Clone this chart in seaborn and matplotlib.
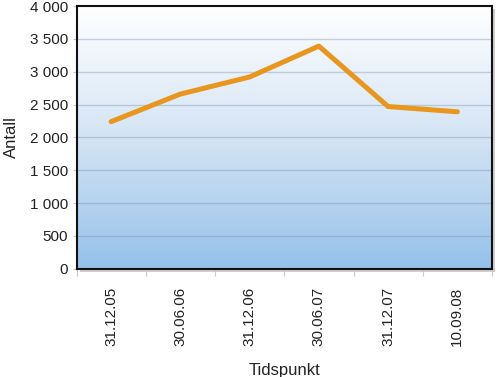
import numpy as np
import pandas as pd
import matplotlib
matplotlib.use("Agg")
import matplotlib.pyplot as plt
import seaborn as sns
from matplotlib.colors import LinearSegmentedColormap
from matplotlib.ticker import FuncFormatter, FixedLocator
from matplotlib.patches import Rectangle

# data
tidspunkt = ["31.12.05", "30.06.06", "31.12.06", "30.06.07", "31.12.07", "10.09.08"]
antall = [2240, 2660, 2920, 3390, 2470, 2390]
y_ticks = [0, 500, 1000, 1500, 2000, 2500, 3000, 3500, 4000]

df = pd.DataFrame({"Tidspunkt": tidspunkt, "Antall": antall})

sns.set_style("white")
plt.rcParams["font.family"] = ["Liberation Sans", "DejaVu Sans"]

fig = plt.figure(figsize=(5, 3.77), dpi=100)
ax = fig.add_axes([0.153, 0.287, 0.831, 0.697])

# soft shadow behind the plot area
x0, y0, w, h = 0.153, 0.287, 0.831, 0.697
fig.patches.append(Rectangle((x0 + 0.006, y0 - 0.008), w, h, transform=fig.transFigure,
                             facecolor="#d0d0d0", edgecolor="none", zorder=-5))

# gradient background
grad = LinearSegmentedColormap.from_list("bg", ["#96c1ea", "#d4e4f4", "#ffffff"])
ax.imshow(np.linspace(0, 1, 256).reshape(-1, 1), cmap=grad, origin="lower",
          extent=[0, 1, 0, 1], transform=ax.transAxes, aspect="auto", zorder=0)

sns.lineplot(data=df, x="Tidspunkt", y="Antall", ax=ax, color="#e8961e",
             linewidth=3.6, sort=False, zorder=3)

ax.set_xlim(-0.5, len(tidspunkt) - 0.5)
ax.set_ylim(0, 4000)
ax.set_yticks(y_ticks)
ax.yaxis.set_major_formatter(FuncFormatter(lambda v, p: f"{int(v):,}".replace(",", " ")))
for t in y_ticks[1:-1]:
    ax.axhline(t, color="#6f86a3", alpha=0.35, linewidth=1.0, zorder=1)

ax.set_xticks(range(len(tidspunkt)))
ax.set_xticklabels(tidspunkt, rotation=90, fontsize=11, color="#222222")
ax.xaxis.set_minor_locator(FixedLocator(np.arange(-0.5, len(tidspunkt), 1)))
ax.tick_params(axis="x", which="major", length=0, pad=13)
ax.tick_params(axis="x", which="minor", length=5, width=0.8, color="#c8c8c8", bottom=True)
ax.tick_params(axis="y", length=3, width=0.8, color="#c8c8c8", left=True, labelsize=11,
               labelcolor="#222222", pad=3)

ax.set_xlabel("Tidspunkt", fontsize=12, color="#222222", labelpad=12)
ax.set_ylabel("Antall", fontsize=12, color="#222222", labelpad=8)

for s in ax.spines.values():
    s.set_visible(True)
    s.set_color("#111111")
    s.set_linewidth(1.5)
    s.set_zorder(4)

fig.savefig("out.png", dpi=100)
